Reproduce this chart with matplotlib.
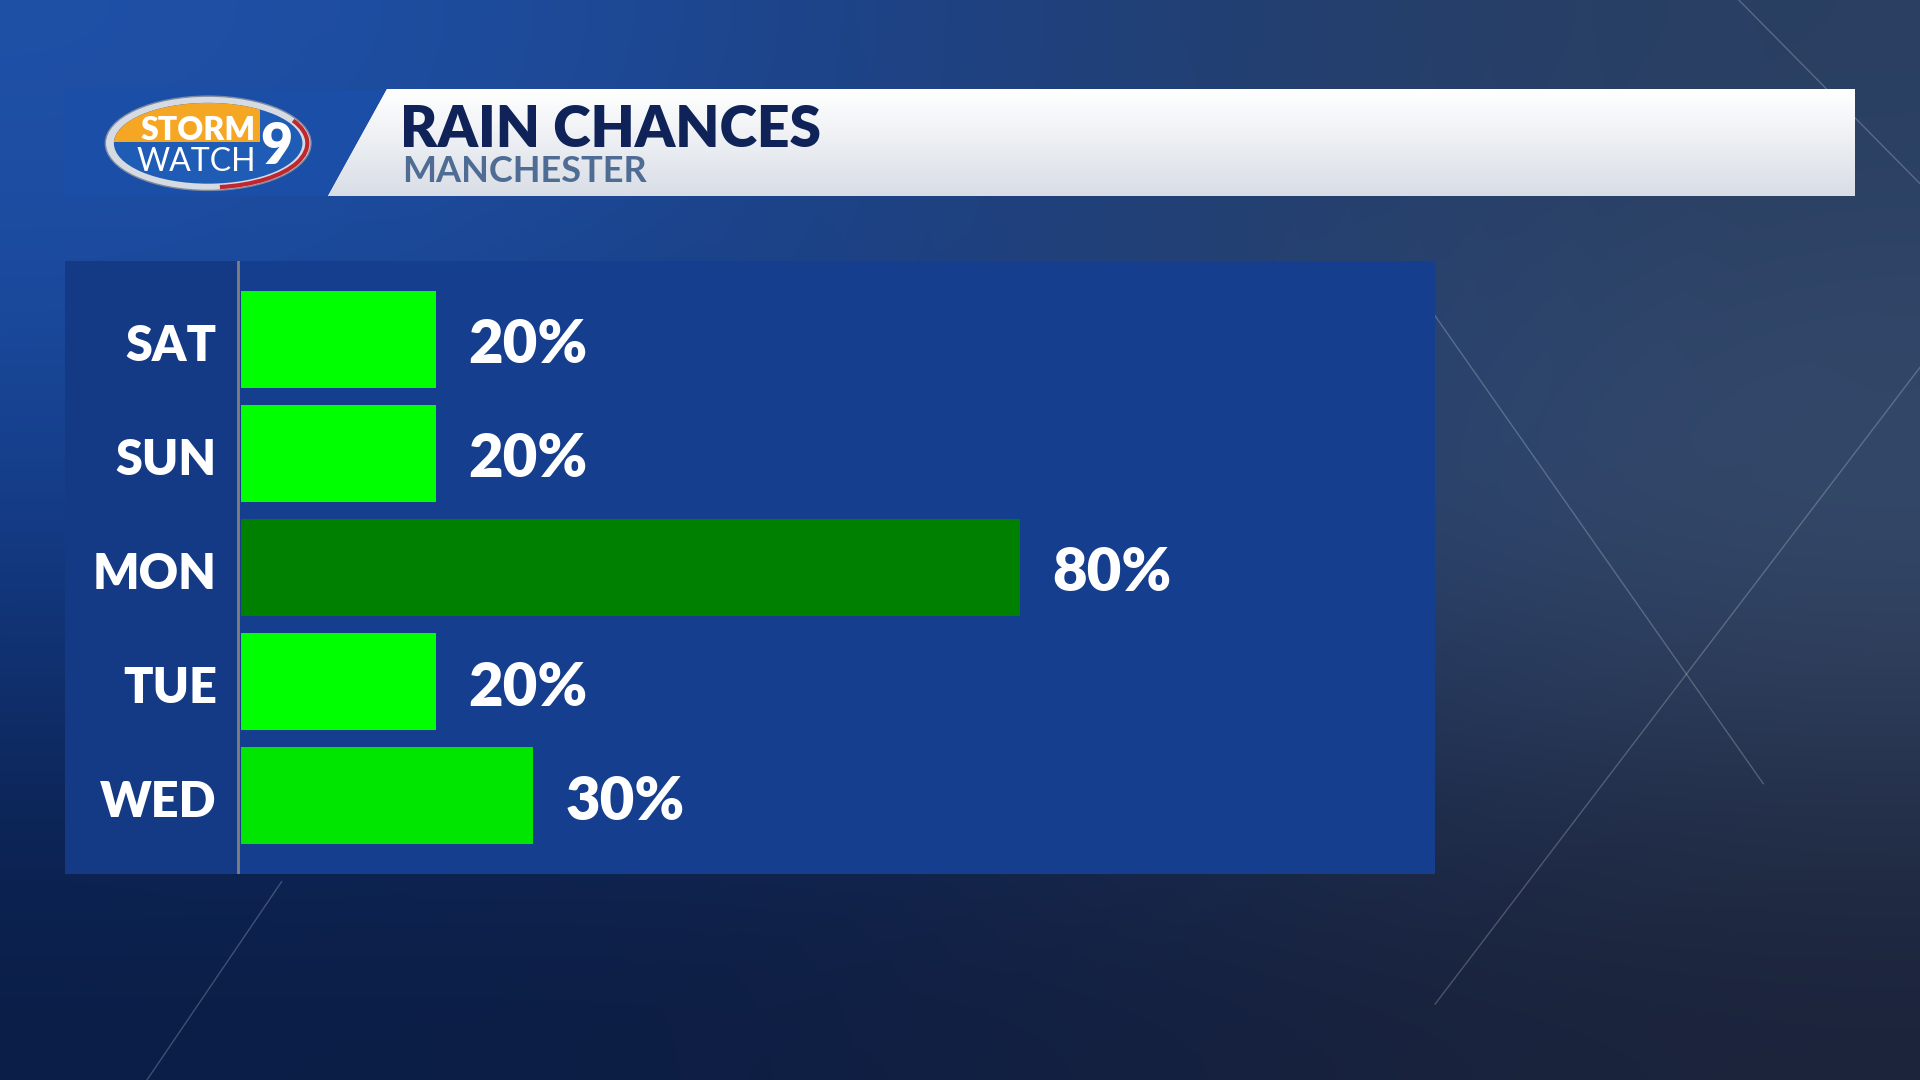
import numpy as np
import matplotlib
matplotlib.use('Agg')
import matplotlib.pyplot as plt
from matplotlib.patches import Ellipse, Rectangle, Polygon, Arc
from matplotlib.colors import to_rgb

# data
days = ['SAT', 'SUN', 'MON', 'TUE', 'WED']
rain_pct = [20, 20, 80, 20, 30]
bar_colors = ['#00ff00', '#00ff00', '#008000', '#00ff00', '#00e600']
title = 'RAIN CHANCES'
subtitle = 'MANCHESTER'

plt.rcParams['font.family'] = ['Lato', 'DejaVu Sans']

fig = plt.figure(figsize=(19.2, 10.8), dpi=100)

# background layer, laid out on a 1568 x 882 grid
W, H = 1568, 882
bg = fig.add_axes([0, 0, 1, 1])
bg.set_xlim(0, W)
bg.set_ylim(H, 0)
bg.axis('off')

grid = [['#1f52aa', '#1c3f80', '#2a3f60'],
        ['#133b88', '#183a78', '#3c5070'],
        ['#0a1d45', '#101d40', '#1b2339']]
img = np.array([[to_rgb(c) for c in row] for row in grid])
bg.imshow(img, extent=[0, W, H, 0], aspect='auto', interpolation='bicubic', zorder=0)

# faint diagonal streaks
for (x0, y0, x1, y1) in [(1172, 258, 1440, 640), (1568, 300, 1172, 820),
                         (1420, 0, 1568, 150), (230, 720, 120, 882)]:
    bg.plot([x0, x1], [y0, y1], color='white', alpha=0.22, lw=1, zorder=1)

# header
blue_part = Polygon([(52, 73), (316, 73), (268, 160), (52, 160)], closed=True,
                    fc='#1b4ea6', ec='none', zorder=2)
bg.add_patch(blue_part)
white_part = Polygon([(316, 73), (1515, 73), (1515, 160), (268, 160)], closed=True,
                     fc='white', ec='none', zorder=2)
bg.add_patch(white_part)
shade = np.linspace(0, 1, 50)[:, None, None] * (np.array(to_rgb('#d9dee6')) - 1) + 1
shade = np.repeat(shade, 2, axis=1)
im = bg.imshow(shade, extent=[268, 1515, 160, 73], aspect='auto', zorder=3)
im.set_clip_path(white_part)

bg.text(327, 120, title, fontsize=41, fontweight='heavy', color='#0f2358',
        va='baseline', ha='left', zorder=5)
bg.text(328, 148.5, subtitle, fontsize=26, fontweight='bold', color='#4f6d94',
        va='baseline', ha='left', zorder=5)

# logo
rim = Ellipse((170, 117), 168, 77, fc='#d5dae3', ec='#7d8aa0', lw=1, zorder=4)
bg.add_patch(rim)
inner = Ellipse((170, 117), 154, 66, fc='#1f5cb5', ec='none', zorder=5)
bg.add_patch(inner)
orange = Rectangle((80, 80), 132, 36, fc='#f5a623', ec='none', zorder=6)
bg.add_patch(orange)
orange.set_clip_path(inner)
bg.add_patch(Arc((170, 117), 162, 72, theta1=-15, theta2=75, color='#c0262d', lw=3, zorder=7))
bg.text(162, 114, 'STORM', fontsize=23, fontweight='heavy', color='white',
        ha='center', va='baseline', zorder=8)
bg.text(160, 140, 'WATCH', fontsize=23, fontweight='normal', color='white',
        ha='center', va='baseline', zorder=8)
bg.text(226, 134, '9', fontsize=40, fontweight='heavy', color='white',
        ha='center', va='baseline', zorder=8)

# chart panel
ax = fig.add_axes([53 / W, 1 - 714 / H, (1172 - 53) / W, (714 - 213) / H])
ax.set_facecolor('#163e8e')
ax.set_xlim(-18.1, 122.6)
ax.set_ylim(4.69, -0.69)
ax.axvspan(-18.1, -0.4, color='#143a86', zorder=0)
ax.axvline(-0.3, color='#808080', lw=2, zorder=1)

y = np.arange(len(days))
ax.barh(y, rain_pct, height=0.85, color=bar_colors, zorder=2)

for yi, d, v in zip(y, days, rain_pct):
    ax.text(-2.5, yi + 0.19, d, fontsize=35, fontweight='heavy', color='white',
            ha='right', va='baseline')
    ax.text(v + 3.3, yi + 0.21, f'{v}%', fontsize=43, fontweight='heavy', color='white',
            ha='left', va='baseline')

ax.set_xticks([])
ax.set_yticks([])
for s in ax.spines.values():
    s.set_visible(False)

fig.savefig('out.png', dpi=100)
